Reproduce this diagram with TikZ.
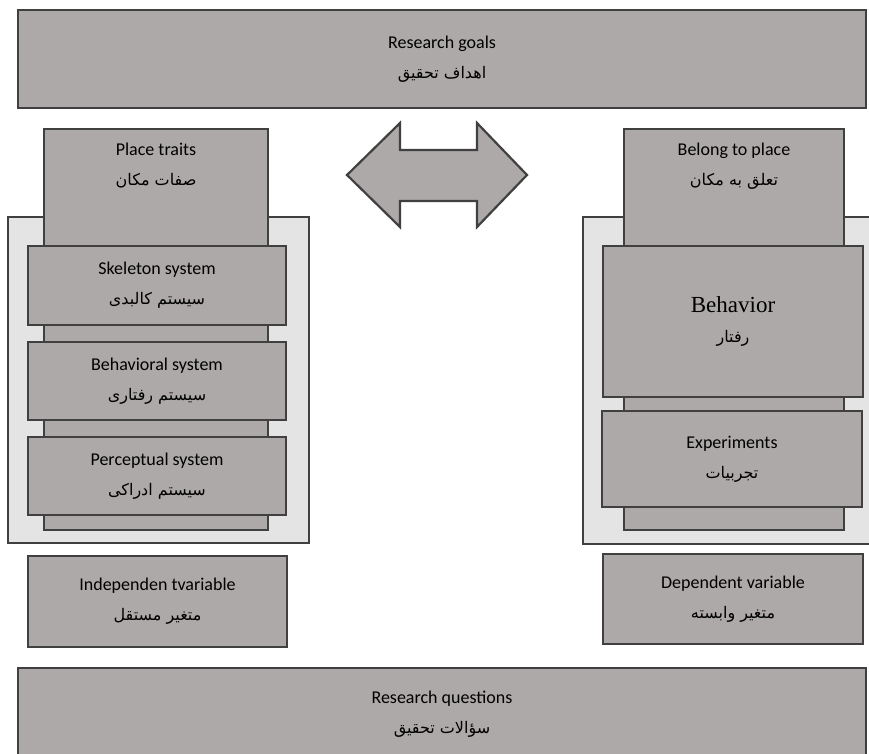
\documentclass[tikz,border=0pt]{standalone}
\usepackage{fontspec}
\setmainfont{Carlito}
\newfontfamily\farsifont[Script=Arabic]{DejaVu Sans}
\newfontfamily\timesfont{Liberation Serif}
\TeXXeTstate=1
\newcommand{\fa}[1]{{\farsifont\fontsize{16}{30}\selectfont\beginR #1\endR}}
\usetikzlibrary{positioning}
\definecolor{boxgray}{HTML}{ADA9A8}
\definecolor{edgegray}{HTML}{404040}
\definecolor{panelgray}{HTML}{E4E4E4}

\begin{document}
\begin{tikzpicture}[x=1pt, y=-1pt, b/.style={rectangle, draw=edgegray, fill=boxgray, line width=2.2pt, inner sep=0pt, align=center, font=\fontsize{18}{30}\selectfont}, p/.style={rectangle, draw=edgegray, fill=panelgray, line width=2.2pt, inner sep=0pt}, t/.style={inner sep=0pt, align=center, font=\fontsize{18}{30}\selectfont}, a/.style={draw=edgegray, fill=boxgray, line width=2.2pt, line join=miter}]
		\useasboundingbox (0,0) rectangle (869,754);

		\node[b, minimum width=848pt, minimum height=98pt] (goals) at (442,59) {Research goals\\\fa{اهداف تحقیق}};

		% left side
		\node[p, minimum width=301pt, minimum height=326pt] (leftpanel) at (158.5,380) {};
		\node[b, minimum width=224pt, minimum height=401pt] (traits) at (156,329.5) {};
		\node[t, below=15pt of traits.north] (traits_label) {Place traits\\\fa{صفات مکان}};
		\node[b, minimum width=258pt, minimum height=79pt] (skeleton) at (157,285.5) {Skeleton system\\\fa{سیستم کالبدی}};
		\node[b, minimum width=258pt, minimum height=78pt] (behavioral) at (157,381) {Behavioral system\\\fa{سیستم رفتاری}};
		\node[b, minimum width=258pt, minimum height=78pt] (perceptual) at (157,476) {Perceptual system\\\fa{سیستم ادراکی}};
		\node[b, minimum width=259pt, minimum height=91pt] (indep) at (157.5,601.5) {Independen tvariable\\\fa{متغیر مستقل}};

		% right side
		\begin{scope}
			\clip (0,0) rectangle (869,754);
			\node[p, anchor=north west, minimum width=300pt, minimum height=327pt] (rightpanel) at (582,216) {};
			\node[b, anchor=north, minimum width=848pt, minimum height=92pt] (questions) at (442,667) {Research questions\\\fa{سؤالات تحقیق}};
		\end{scope}
		\node[b, minimum width=220pt, minimum height=401pt] (belong) at (734,329.5) {};
		\node[t, below=15pt of belong.north] (belong_label) {Belong to place\\\fa{تعلق به مکان}};
		\node[b, minimum width=260pt, minimum height=151pt] (behavior) at (733,321.5) {{\timesfont\fontsize{23}{33}\selectfont Behavior}\\\fa{رفتار}};
		\node[b, minimum width=260pt, minimum height=96pt] (experiments) at (732,459) {Experiments\\\fa{تجربیات}};
		\node[b, minimum width=260pt, minimum height=90pt] (dep) at (733,599) {Dependent variable\\\fa{متغیر وابسته}};

		% double arrow
		\draw[a] (347,175) -- (400,123) -- (400,150) -- (477,150) -- (477,123) -- (527,175) -- (477,227) -- (477,201) -- (400,201) -- (400,227) -- cycle;
	\end{tikzpicture}
\end{document}
